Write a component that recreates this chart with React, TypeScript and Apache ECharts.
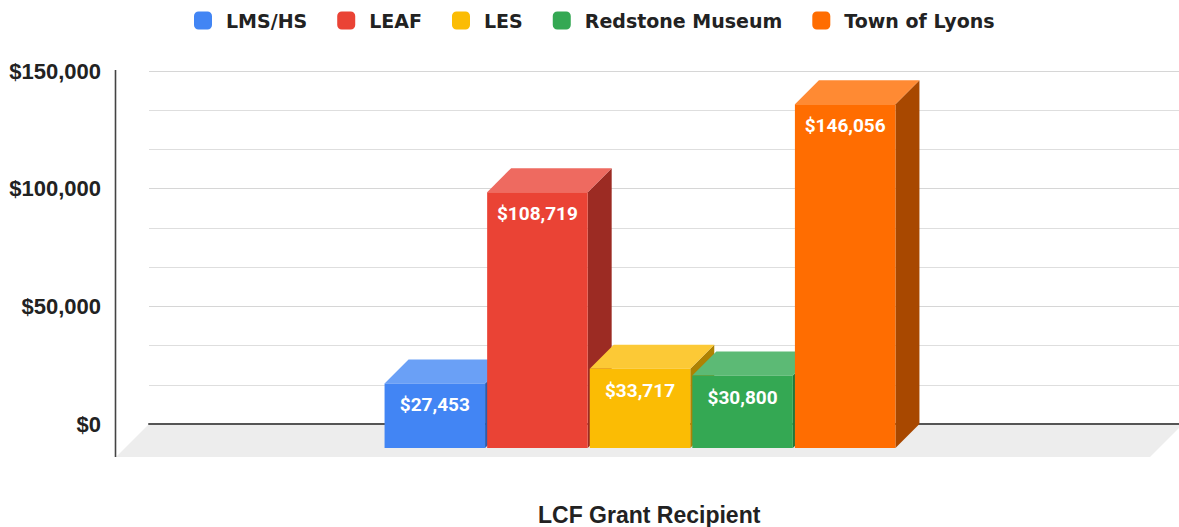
import React, { useEffect, useRef } from "react";
import * as echarts from "echarts";

const recipients = ["LMS/HS", "LEAF", "LES", "Redstone Museum", "Town of Lyons"];
const grants = [27453, 108719, 33717, 30800, 146056];
const frontColors = ["#4285F4", "#EA4335", "#FBBC04", "#34A853", "#FF6D01"];
const topColors = ["#6aa0f6", "#ee6a60", "#fcc936", "#5cba75", "#ff8a33"];
const sideColors = ["#2d5cab", "#9c2b23", "#ae8203", "#23763a", "#a84800"];
const category = ["LCF Grant Recipient"];
const yTicks = [0, 50000, 100000, 150000];

const DEPTH = 24; // bar depth offset (px)
const FLOOR_DEPTH = 33;
const SLOT_FRAC = 0.0996;
const BAR_FRAC = 0.0976;

const fmt = (v: number) => "$" + v.toLocaleString("en-US");

export default function App() {
  const ref = useRef<HTMLDivElement>(null);
  useEffect(() => {
    if (!ref.current) return;
    const chart = echarts.init(ref.current, undefined, { renderer: "svg" });
    const n = recipients.length;

    const barSeries = recipients.map((name, i) => ({
      type: "custom",
      name,
      z: 2,
      itemStyle: { color: frontColors[i] },
      data: [[0, grants[i]]],
      renderItem: (params: any, api: any) => {
        const v = api.value(1);
        const base = api.coord([0, 0]);
        const top = api.coord([0, v]);
        const band = api.size([1, 0])[0];
        const slot = band * SLOT_FRAC;
        const w = band * BAR_FRAC;
        const cx = base[0] + (i - (n - 1) / 2) * slot;
        const bx0 = cx - w / 2;
        const bx1 = cx + w / 2;
        const fx0 = bx0 - DEPTH;
        const fx1 = bx1 - DEPTH;
        const by0 = base[1];
        const byT = top[1];
        const fy0 = by0 + DEPTH;
        const fyT = byT + DEPTH;
        return {
          type: "group",
          children: [
            {
              type: "polygon",
              shape: { points: [[fx1, fyT], [bx1, byT], [bx1, by0], [fx1, fy0]] },
              style: { fill: sideColors[i] },
            },
            {
              type: "polygon",
              shape: { points: [[fx0, fyT], [bx0, byT], [bx1, byT], [fx1, fyT]] },
              style: { fill: topColors[i] },
            },
            {
              type: "rect",
              shape: { x: fx0, y: fyT, width: w, height: fy0 - fyT },
              style: { fill: frontColors[i] },
            },
            {
              type: "text",
              x: (fx0 + fx1) / 2,
              y: fyT + 21.5,
              style: {
                text: fmt(v),
                fill: "#ffffff",
                font: "bold 19px Roboto",
                align: "center",
                verticalAlign: "middle",
              },
            },
          ],
        };
      },
    }));

    const decoSeries = {
      type: "custom",
      name: "floor",
      z: 0,
      silent: true,
      data: [[0, 0]],
      renderItem: (params: any, api: any) => {
        const cs = params.coordSys;
        const x0 = cs.x;
        const x1 = cs.x + cs.width + 4;
        const y0 = cs.y + cs.height;
        return {
          type: "group",
          children: [
            {
              type: "polygon",
              shape: {
                points: [
                  [x0, y0],
                  [x1, y0],
                  [x1 - FLOOR_DEPTH, y0 + FLOOR_DEPTH],
                  [x0 - FLOOR_DEPTH, y0 + FLOOR_DEPTH],
                ],
              },
              style: { fill: "#ededed" },
            },
            {
              type: "line",
              shape: {
                x1: x0 - FLOOR_DEPTH - 0.5,
                y1: cs.y - 1,
                x2: x0 - FLOOR_DEPTH - 0.5,
                y2: y0 + FLOOR_DEPTH,
              },
              style: { stroke: "#444", lineWidth: 1.6 },
            },
          ],
        };
      },
    };

    chart.setOption({
      animation: false,
      backgroundColor: "#ffffff",
      grid: { left: 149, right: 0, top: 71, bottom: 103 },
      legend: {
        data: recipients,
        left: 189,
        top: 6,
        icon: "roundRect",
        itemWidth: 18,
        itemHeight: 18,
        itemGap: 30,
        textStyle: {
          fontFamily: "DejaVu Sans",
          fontWeight: "bold",
          fontSize: 19,
          color: "#222222",
          padding: [0, 0, 0, 9],
        },
      },
      xAxis: {
        type: "category",
        data: category,
        z: 1,
        axisLine: { show: true, lineStyle: { color: "#555555", width: 2 } },
        axisTick: { show: false },
        axisLabel: { show: false },
      },
      yAxis: {
        type: "value",
        min: yTicks[0],
        max: yTicks[yTicks.length - 1],
        interval: yTicks[1] - yTicks[0],
        axisLine: { show: false },
        axisTick: { show: false },
        axisLabel: {
          margin: 48,
          formatter: (v: number) => fmt(v),
          fontFamily: "Liberation Sans",
          fontWeight: "bold",
          fontSize: 22,
          color: "#222222",
        },
        splitLine: { show: true, lineStyle: { color: "#d6d6d6", width: 1 } },
        minorTick: { show: false, splitNumber: 3 },
        minorSplitLine: { show: true, lineStyle: { color: "#dedede", width: 1 } },
      },
      graphic: [
        {
          type: "text",
          left: 538,
          top: 503,
          style: {
            text: category[0],
            font: "bold 23px 'Liberation Sans'",
            fill: "#222222",
          },
        },
      ],
      series: [decoSeries, ...barSeries],
    });
    return () => chart.dispose();
  }, []);
  return (
    <div
      ref={ref}
      style={{ position: "absolute", left: 0, top: 0, width: 1179, height: 527 }}
    />
  );
}
